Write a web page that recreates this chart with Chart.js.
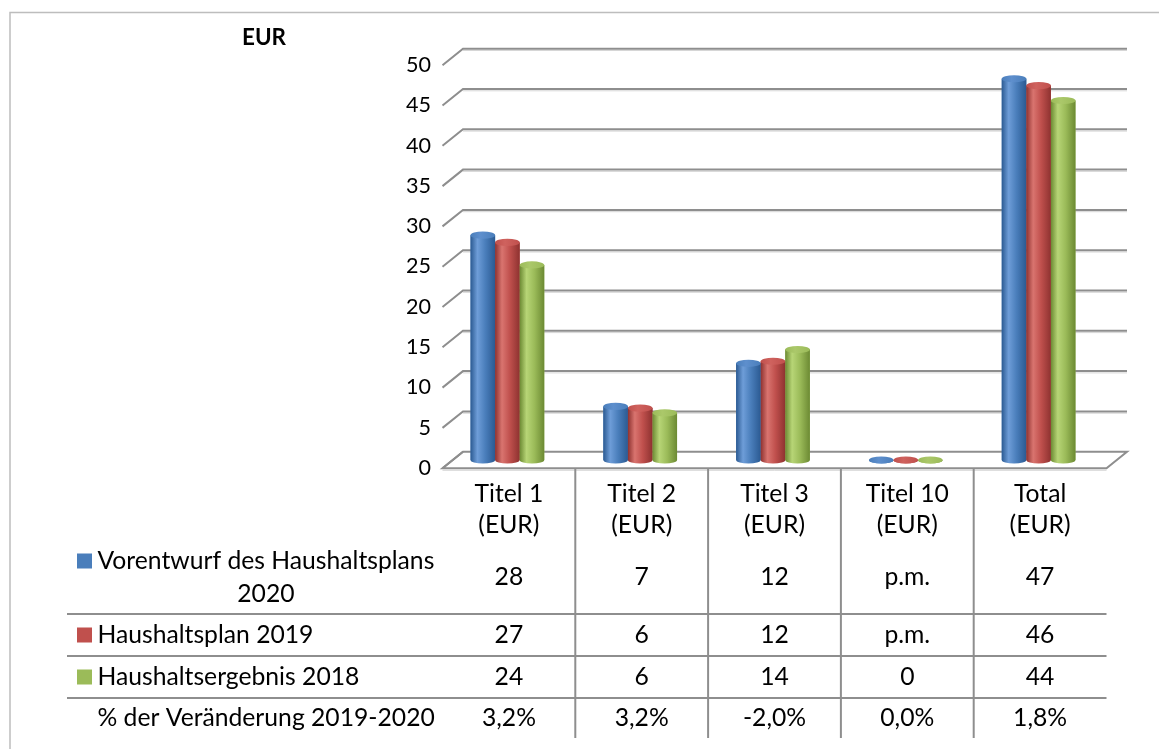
<!DOCTYPE html>
<html><head><meta charset="utf-8">
<script src="https://cdn.jsdelivr.net/npm/chart.js@4.4.0/dist/chart.umd.min.js"></script>
<style>html,body{margin:0;padding:0;background:#fff;overflow:hidden}canvas{display:block}</style>
</head><body><canvas id="c" width="1159" height="749"></canvas>
<script>
// ---------- data ----------
const categories = [["Titel 1","(EUR)"],["Titel 2","(EUR)"],["Titel 3","(EUR)"],["Titel 10","(EUR)"],["Total","(EUR)"]];
const seriesNames = [["Vorentwurf des Haushaltsplans","2020"],["Haushaltsplan 2019"],["Haushaltsergebnis 2018"]];
const vorentwurf2020 = [27.9, 6.65, 12.0, 0, 47.3];
const haushaltsplan2019 = [27.0, 6.44, 12.25, 0, 46.45];
const haushaltsergebnis2018 = [24.2, 5.85, 13.7, 0, 44.6];
const tableVorentwurf2020 = ["28","7","12","p.m.","47"];
const tableHaushaltsplan2019 = ["27","6","12","p.m.","46"];
const tableHaushaltsergebnis2018 = ["24","6","14","0","44"];
const changeLabel = "% der Veränderung 2019-2020";
const changeValues = ["3,2%","3,2%","-2,0%","0,0%","1,8%"];
const yTitle = "EUR";
const yMin = 0, yMax = 50, yStep = 5;

// ---------- styles ----------
const FONT = "Lato, 'Open Sans', sans-serif";
const COLORS = [
  {base:'#4A7EBB', dark:'#2B5A92', light:'#6E9DD8', cap:'#5E8FCD'},
  {base:'#C0504D', dark:'#8E3230', light:'#D9746F', cap:'#CF625E'},
  {base:'#9BBB59', dark:'#6C8A33', light:'#B7D576', cap:'#ABC86A'}
];
const FRONT = {dx:1.5, dy:8.2};
const BACK = {dx:22, dy:-8.3};
const GRID = '#8E8E8E';

function fit(text, target, weight){
  const c = document.createElement('canvas').getContext('2d');
  c.font = (weight||'') + ' 24px ' + FONT;
  return 24 * target / c.measureText(text).width;
}
const tableSize = fit("Vorentwurf des Haushaltsplans", 337);
const tickSize = fit("50", 25);
const titleSize = fit("EUR", 44, 'bold');

function cylinder(ctx, x, top, base, w, col){
  const rx = w/2, ry = 3.6;
  const g = ctx.createLinearGradient(x-rx,0,x+rx,0);
  g.addColorStop(0, col.dark);
  g.addColorStop(0.28, col.light);
  g.addColorStop(0.6, col.base);
  g.addColorStop(1, col.dark);
  ctx.save();
  ctx.fillStyle = g;
  ctx.beginPath();
  ctx.moveTo(x-rx, top);
  ctx.lineTo(x-rx, base);
  ctx.ellipse(x, base, rx, ry, 0, Math.PI, 0, true);
  ctx.lineTo(x+rx, top);
  ctx.closePath();
  ctx.fill();
  ctx.beginPath();
  ctx.ellipse(x, top, rx, ry, 0, 0, Math.PI*2);
  const g2 = ctx.createLinearGradient(x-rx,0,x+rx,0);
  g2.addColorStop(0, col.base); g2.addColorStop(0.4, col.cap); g2.addColorStop(1, col.base);
  ctx.fillStyle = g2;
  ctx.fill();
  ctx.restore();
}

const threeD = {
  id:'threeD',
  beforeDatasetsDraw(chart){
    const {ctx, chartArea:ca, scales:{x, y}} = chart;
    ctx.save();
    // back wall gridlines with side diagonals
    y.ticks.forEach(t => {
      const py = y.getPixelForValue(t.value);
      ctx.lineWidth = 1; ctx.strokeStyle = '#D6D6D6';
      if (t.value !== yMin){
        ctx.beginPath();
        ctx.moveTo(ca.left+BACK.dx, py+BACK.dy+1.8);
        ctx.lineTo(ca.right+BACK.dx, py+BACK.dy+1.8);
        ctx.stroke();
      }
      ctx.lineWidth = 2; ctx.strokeStyle = GRID;
      ctx.beginPath();
      ctx.moveTo(ca.left+FRONT.dx, py+FRONT.dy);
      ctx.lineTo(ca.left+BACK.dx, py+BACK.dy);
      if (t.value !== yMin) ctx.lineTo(ca.right+BACK.dx, py+BACK.dy);
      ctx.stroke();
    });
    // floor
    const p0 = y.getPixelForValue(yMin);
    ctx.lineWidth = 2; ctx.strokeStyle = GRID; ctx.lineJoin = 'miter';
    ctx.beginPath();
    ctx.moveTo(ca.left+FRONT.dx, p0+FRONT.dy);
    ctx.lineTo(ca.right+FRONT.dx, p0+FRONT.dy);
    ctx.lineTo(ca.right+BACK.dx, p0+BACK.dy);
    ctx.lineTo(ca.left+BACK.dx, p0+BACK.dy);
    ctx.closePath();
    ctx.stroke();
    ctx.lineWidth = 1; ctx.strokeStyle = '#CFCFCF';
    ctx.beginPath();
    ctx.moveTo(ca.left+FRONT.dx, p0+FRONT.dy+2);
    ctx.lineTo(ca.right+FRONT.dx, p0+FRONT.dy+2);
    ctx.stroke();
    ctx.restore();
  },
  afterDatasetsDraw(chart){
    const ctx = chart.ctx;
    chart.data.datasets.forEach((ds, di) => {
      chart.getDatasetMeta(di).data.forEach(el => {
        const p = el.getProps(['x','y','base','width'], true);
        cylinder(ctx, p.x, p.y, p.base, p.width, COLORS[di]);
      });
    });
  },
  afterDraw(chart){
    const {ctx, chartArea:ca, scales:{x, y}} = chart;
    const p0 = y.getPixelForValue(yMin) + FRONT.dy;
    const cx = i => x.getPixelForValue(i) + FRONT.dx;
    ctx.save();
    // outer border
    ctx.strokeStyle = '#BDBDBD'; ctx.lineWidth = 1.5;
    ctx.strokeRect(10, 12.5, 1200, 800);
    // title
    ctx.fillStyle = '#000'; ctx.textBaseline = 'middle'; ctx.textAlign = 'center';
    ctx.font = 'bold ' + titleSize + 'px ' + FONT;
    ctx.fillText(yTitle, 264, 38);
    // table grid
    ctx.strokeStyle = GRID; ctx.lineWidth = 2;
    for (let i = 0; i < categories.length - 1; i++){
      const bx = (cx(i) + cx(i+1)) / 2;
      ctx.beginPath(); ctx.moveTo(bx, p0); ctx.lineTo(bx, 738); ctx.stroke();
    }
    [614, 656, 698].forEach(ly => {
      ctx.beginPath(); ctx.moveTo(67, ly); ctx.lineTo(ca.right+FRONT.dx, ly); ctx.stroke();
    });
    // header
    ctx.font = tableSize + 'px ' + FONT;
    ctx.fillStyle = '#000';
    categories.forEach((c, i) => {
      ctx.fillText(c[0], cx(i), 494);
      ctx.fillText(c[1], cx(i), 525);
    });
    // rows
    const rows = [
      {name: seriesNames[0], vals: tableVorentwurf2020, y: 577.5, lines:[561, 594], col: COLORS[0].base},
      {name: seriesNames[1], vals: tableHaushaltsplan2019, y: 635, lines:[635], col: COLORS[1].base},
      {name: seriesNames[2], vals: tableHaushaltsergebnis2018, y: 677, lines:[677], col: COLORS[2].base},
      {name: [changeLabel], vals: changeValues, y: 718.5, lines:[718.5], col: null}
    ];
    rows.forEach(r => {
      if (r.col){ ctx.fillStyle = r.col; ctx.fillRect(77, r.lines[0]-7.5, 15, 15); }
      ctx.fillStyle = '#000';
      ctx.textAlign = 'left';
      ctx.fillText(r.name[0], 97.5, r.lines[0]);
      if (r.name[1]){
        const w0 = ctx.measureText(r.name[0]).width;
        ctx.textAlign = 'center';
        ctx.fillText(r.name[1], 97.5 + w0/2, r.lines[1]);
      }
      ctx.textAlign = 'center';
      r.vals.forEach((v, i) => ctx.fillText(v, cx(i), r.y));
    });
    ctx.restore();
  }
};

new Chart(document.getElementById('c'), {
  type: 'bar',
  data: {
    labels: categories.map(c => c.join(' ')),
    datasets: [
      {label: seriesNames[0].join(' '), data: vorentwurf2020, backgroundColor: COLORS[0].base},
      {label: seriesNames[1].join(' '), data: haushaltsplan2019, backgroundColor: COLORS[1].base},
      {label: seriesNames[2].join(' '), data: haushaltsergebnis2018, backgroundColor: COLORS[2].base}
    ]
  },
  options: {
    responsive: false,
    animation: false,
    devicePixelRatio: 1,
    layout: {padding: {top: 57, right: 54, bottom: 289, left: 0}},
    datasets: {bar: {categoryPercentage: 0.555, barPercentage: 1.0, borderWidth: 0}},
    plugins: {legend: {display: false}, tooltip: {enabled: false}, title: {display: false}},
    scales: {
      x: {display: false},
      y: {
        min: yMin, max: yMax,
        ticks: {stepSize: yStep, padding: 10, labelOffset: 8, color: '#000', font: {family: FONT, size: tickSize}},
        grid: {display: false, drawTicks: false},
        border: {display: false},
        afterFit(s){ s.width = 441; }
      }
    }
  },
  plugins: [threeD]
});
</script></body></html>
